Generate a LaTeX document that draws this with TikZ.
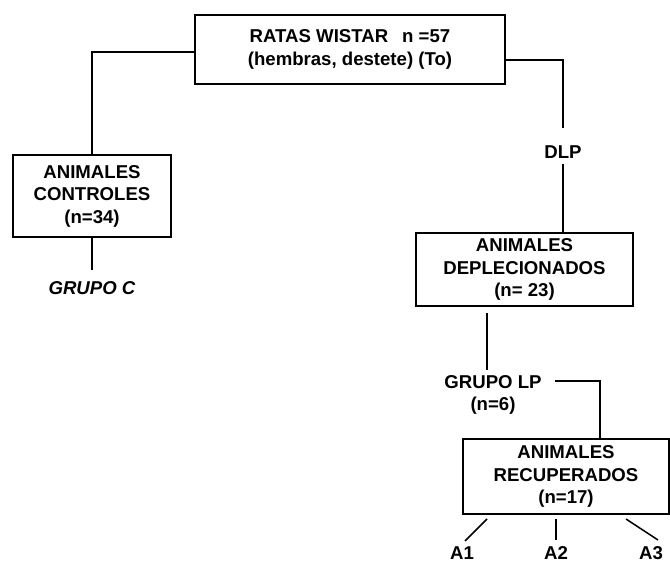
\documentclass[tikz,border=0pt]{standalone}
\usepackage{fontspec}
\setmainfont{Liberation Sans}
\newcommand{\diagfont}{\fontsize{18.6}{22.5}\selectfont\bfseries}
\begin{document}
\begin{tikzpicture}[x=1pt,y=-1pt,line width=1.5pt,
  box/.style={draw,rectangle,align=center,inner sep=0pt,font=\diagfont},
  lbl/.style={inner sep=0pt,align=center,font=\diagfont}]
\useasboundingbox (0,0) rectangle (670,564);
% boxes
\node[box,minimum width=310pt,minimum height=69pt] (top) at (350,49.5)
  {RATAS WISTAR\hspace{14pt}n =57\\(hembras, destete) (To)};
\node[box,minimum width=158pt,minimum height=82pt] (ctrl) at (92,196)
  {ANIMALES\\CONTROLES\\(n=34)};
\node[box,minimum width=217pt,minimum height=73pt] (depl) at (524.5,269.5)
  {ANIMALES\\DEPLECIONADOS\\(n= 23)};
\node[box,minimum width=206pt,minimum height=75pt] (recu) at (566,476.5)
  {ANIMALES\\RECUPERADOS\\(n=17)};
% labels
\node[lbl,font=\diagfont\itshape] (grpC) at (92,288) {GRUPO C};
\node[lbl] (dlp) at (563,152) {DLP};
\node[lbl] (grpLP) at (493,395) {GRUPO LP\\(n=6)};
\node[lbl] (a1) at (462,553.5) {A1};
\node[lbl] (a2) at (556,553.5) {A2};
\node[lbl] (a3) at (651,553.5) {A3};
% free ends
\coordinate (lpTop) at (487,313);
\coordinate (lpBot) at (487,370);
\coordinate (lpR) at (555,381);
\coordinate (a1s) at (487,519);
\coordinate (a1e) at (465,541);
\coordinate (a2s) at (556,519);
\coordinate (a2e) at (556,540);
\coordinate (a3s) at (626,519);
\coordinate (a3e) at (658,540);
% connectors
\draw ([yshift=-2.5pt]top.west) -| (ctrl.north);
\draw (ctrl.south) -- (grpC.north) [shorten >=11pt];
\draw[shorten >=17pt] ([yshift=-10.5pt]top.east) -| (dlp.north);
\draw[shorten <=5pt] (dlp.south) -- (dlp.south |- depl.north);
\draw (lpTop) -- (lpBot);
\draw (lpR) -| ([xshift=34pt]recu.north);
\draw (a1s) -- (a1e);
\draw (a2s) -- (a2e);
\draw (a3s) -- (a3e);
\end{tikzpicture}
\end{document}
